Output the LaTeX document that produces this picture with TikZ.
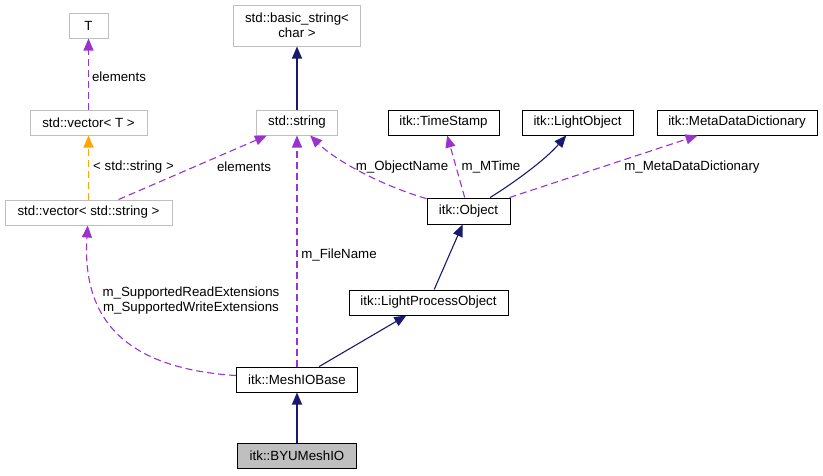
\documentclass[tikz,border=0pt]{standalone}
\usepackage{fontspec}
\setmainfont{Liberation Sans}
\usetikzlibrary{arrows.meta}
\definecolor{inhcol}{HTML}{191970}
\definecolor{usecol}{HTML}{9A32CD}
\definecolor{tplcol}{HTML}{FFA500}
\definecolor{extcol}{HTML}{BFBFBF}
\begin{document}
\begin{tikzpicture}[x=1pt,y=-1pt,
  font=\fontsize{13.3}{15}\selectfont,
  cls/.style={draw=black,line width=1pt,minimum height=25pt,inner sep=2pt},
  extcls/.style={cls,draw=extcol},
  inherit/.style={inhcol,line width=1.1pt,-{Triangle[length=12pt,width=10pt]}},
  uses/.style={usecol,line width=1.1pt,dash pattern=on 7pt off 4pt,-{Triangle[length=12pt,width=10pt]}},
  tmpl/.style={uses,tplcol},
  lbl/.style={inner sep=0pt,text=black}]
\useasboundingbox (0,0) rectangle (823,475);
% classes
\node[extcls,minimum width=39pt] (T) at (88.5,25.5) {T};
\node[extcls,minimum width=127pt,minimum height=41pt,align=center] (bstr) at (297,25.5) {std::basic\_string<\\char >};
\node[extcls,minimum width=117pt] (vecT) at (88.5,122.5) {std::vector< T >};
\node[extcls,minimum width=81pt] (str) at (297,122.5) {std::string};
\node[cls,minimum width=111pt] (ts) at (443.5,122.5) {itk::TimeStamp};
\node[cls,minimum width=111pt] (lobj) at (577.5,122.5) {itk::LightObject};
\node[cls,minimum width=160pt] (mdd) at (737,122.5) {itk::MetaDataDictionary};
\node[extcls,minimum width=167pt] (vecS) at (88.5,212.5) {std::vector< std::string >};
\node[cls,minimum width=83pt,minimum height=26pt] (obj) at (468.5,211) {itk::Object};
\node[cls,minimum width=159pt] (lpo) at (428.5,302.5) {itk::LightProcessObject};
\node[cls,minimum width=121pt] (mesh) at (297,379.5) {itk::MeshIOBase};
\node[cls,fill=extcol,minimum width=119pt] (byu) at (297,455.5) {itk::BYUMeshIO};
% connectors
\draw[inherit] (str) -- (bstr);
\draw[uses] (vecT) -- (T);
\draw[tmpl] (vecS) -- (vecT);
\draw[uses] (vecS) -- (str);
\draw[uses] (mesh) -- (str);
\draw[uses] (obj) .. controls (380,185) and (335,160) .. (str);
\draw[uses] (obj) -- (ts);
\draw[inherit] (obj) .. controls (515,182) and (545,160) .. (lobj);
\draw[uses] (obj) -- (mdd);
\draw[inherit] (lpo) -- (obj);
\draw[inherit] (mesh) -- (lpo);
\draw[uses] (mesh) .. controls (120,368) and (82,315) .. (vecS);
\draw[inherit] (byu) -- (mesh);
% labels
\node[lbl] (l1) at (119,77) {elements};
\node[lbl] (l2) at (133.5,167) {< std::string >};
\node[lbl] (l3) at (244,167) {elements};
\node[lbl] (l4) at (402,167) {m\_ObjectName};
\node[lbl] (l5) at (491,167) {m\_MTime};
\node[lbl] (l6) at (692,167) {m\_MetaDataDictionary};
\node[lbl] (l7) at (339,255) {m\_FileName};
\node[lbl,align=center] (l8) at (191,301) {m\_SupportedReadExtensions\\m\_SupportedWriteExtensions};
\end{tikzpicture}
\end{document}
